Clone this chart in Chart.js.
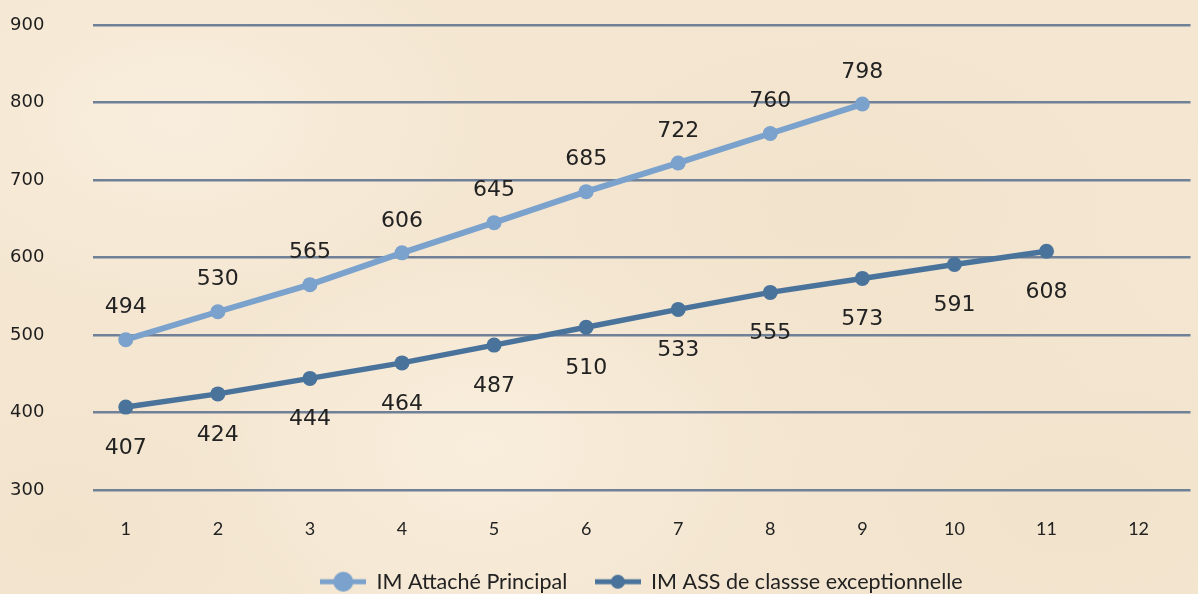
<!DOCTYPE html>
<html>
<head>
<meta charset="utf-8">
<script src="https://cdn.jsdelivr.net/npm/chart.js@4.4.1/dist/chart.umd.min.js"></script>
<style>
    html, body { margin: 0; padding: 0; }
    body {
        width: 1198px;
        height: 594px;
        overflow: hidden;
        background-color: #f4e6d1;
        background-image:
            radial-gradient(ellipse 320px 200px at 15% 20%, rgba(255, 248, 236, 0.45), transparent),
            radial-gradient(ellipse 380px 240px at 70% 35%, rgba(236, 218, 190, 0.25), transparent),
            radial-gradient(ellipse 300px 220px at 40% 75%, rgba(255, 247, 234, 0.45), transparent),
            radial-gradient(ellipse 420px 260px at 90% 85%, rgba(236, 218, 190, 0.25), transparent),
            radial-gradient(ellipse 260px 180px at 5% 90%, rgba(238, 221, 195, 0.3), transparent);
    }
    #zone { position: relative; width: 1198px; height: 594px; }
</style>
</head>
<body>
<div id="zone"><canvas id="grafico" width="1198" height="594"></canvas></div>
<script>
// Données du graphique
const echelons = [1, 2, 3, 4, 5, 6, 7, 8, 9, 10, 11, 12];
const attachePrincipal = [494, 530, 565, 606, 645, 685, 722, 760, 798];
const assExceptionnelle = [407, 424, 444, 464, 487, 510, 533, 555, 573, 591, 608];
const graduations = [300, 400, 500, 600, 700, 800, 900];

const couleurClaire = '#7ba2cc';
const couleurFoncee = '#4a739c';

// Petit pictogramme de légende : trait + rond
function pictoLegende(couleur, rayon) {
    const c = document.createElement('canvas');
    c.width = 46;
    c.height = 24;
    const g = c.getContext('2d');
    g.strokeStyle = couleur;
    g.lineWidth = 5;
    g.beginPath();
    g.moveTo(0, 12);
    g.lineTo(46, 12);
    g.stroke();
    g.fillStyle = couleur;
    g.beginPath();
    g.arc(23, 12, rayon, 0, Math.PI * 2);
    g.fill();
    return c;
}

// Étiquettes de valeurs au-dessus / en dessous des points
const etiquettes = {
    id: 'etiquettes',
    afterDatasetsDraw(chart) {
        const ctx = chart.ctx;
        ctx.save();
        ctx.font = '22px "DejaVu Sans"';
        ctx.fillStyle = '#222222';
        ctx.textAlign = 'center';
        ctx.textBaseline = 'middle';
        chart.data.datasets.forEach((ds, i) => {
            const meta = chart.getDatasetMeta(i);
            meta.data.forEach((pt, j) => {
                ctx.fillText(String(ds.data[j].y), pt.x, pt.y + ds.decalage);
            });
        });
        ctx.restore();
    }
};

const ctx = document.getElementById('grafico').getContext('2d');

const meuGrafico = new Chart(ctx, {
    type: 'line',
    data: {
        datasets: [{
            label: 'IM Attaché Principal',
            data: attachePrincipal.map((v, i) => ({ x: echelons[i], y: v })),
            borderColor: couleurClaire,
            backgroundColor: couleurClaire,
            borderWidth: 6,
            pointRadius: 7.5,
            pointHoverRadius: 7.5,
            pointBorderWidth: 0,
            decalage: -32,
            picto: pictoLegende(couleurClaire, 10)
        }, {
            label: 'IM ASS de classse exceptionnelle',
            data: assExceptionnelle.map((v, i) => ({ x: echelons[i], y: v })),
            borderColor: couleurFoncee,
            backgroundColor: couleurFoncee,
            borderWidth: 5.5,
            pointRadius: 7.5,
            pointHoverRadius: 7.5,
            pointBorderWidth: 0,
            decalage: 41,
            picto: pictoLegende(couleurFoncee, 7)
        }]
    },
    options: {
        responsive: false,
        animation: false,
        layout: {
            padding: { top: 25, right: 0, bottom: 0, left: 10 }
        },
        scales: {
            x: {
                type: 'linear',
                min: 0.644,
                max: 12.564,
                grid: { display: false },
                border: { display: false },
                afterBuildTicks: (axis) => {
                    axis.ticks = echelons.map(v => ({ value: v }));
                },
                afterFit: (axis) => { axis.height = 53; },
                ticks: {
                    padding: 20,
                    color: '#222222',
                    font: { family: 'Lato', size: 18 }
                }
            },
            y: {
                min: 300,
                max: 900,
                afterBuildTicks: (axis) => {
                    axis.ticks = graduations.map(v => ({ value: v }));
                },
                afterFit: (axis) => { axis.width = 83; },
                grid: {
                    color: '#6f8097',
                    lineWidth: 2.5,
                    drawTicks: false
                },
                border: { display: false },
                ticks: {
                    padding: 0,
                    crossAlign: 'far',
                    color: '#1e1e1e',
                    font: { family: 'DejaVu Sans', size: 18 }
                }
            }
        },
        plugins: {
            legend: {
                position: 'bottom',
                fullSize: false,
                maxHeight: 51,
                labels: {
                    usePointStyle: true,
                    pointStyleWidth: 45,
                    padding: 28,
                    color: '#222222',
                    font: { family: 'Lato', size: 21.5 },
                    generateLabels: (chart) => chart.data.datasets.map((ds, i) => ({
                        text: ds.label,
                        pointStyle: ds.picto,
                        fillStyle: ds.backgroundColor,
                        strokeStyle: ds.borderColor,
                        lineWidth: 0,
                        fontColor: '#222222',
                        datasetIndex: i
                    }))
                }
            },
            tooltip: { enabled: false }
        }
    },
    plugins: [etiquettes]
});
</script>
</body>
</html>
